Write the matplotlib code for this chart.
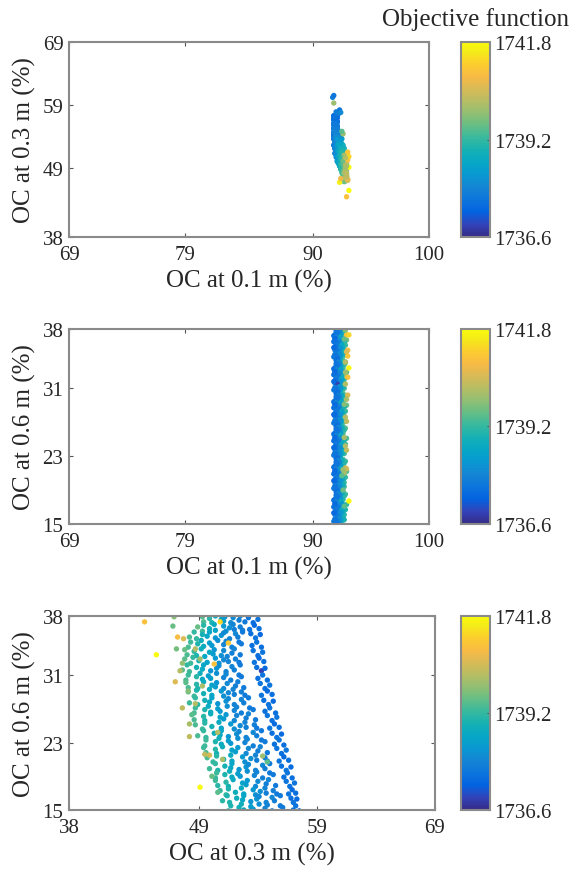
import matplotlib
matplotlib.use('Agg')
import matplotlib.pyplot as plt
from matplotlib.colors import LinearSegmentedColormap

# Each candidate solution: OC at 0.1 m, 0.3 m, 0.6 m (%) and objective value.
# One line per horizontal strip of the 0.3 m / 0.6 m cloud, outliers at the end.
oc_03 = [
    49.3, 49.4, 49.9, 50.1, 50.4, 50.9, 51.1, 51.2, 51.7, 51.9, 52.4, 52.5, 52.9, 53.2, 53.6, 54.0,
    48.9, 49.3, 49.4, 49.9, 50.3, 50.4, 51.1, 51.3, 51.6, 51.9, 52.0, 52.5, 52.7, 53.3, 53.7, 54.1,
    48.2, 48.6, 48.8, 49.3, 49.7, 49.9, 50.4, 50.9, 51.1, 51.6, 52.1, 52.3, 52.7, 53.4, 53.8, 54.2,
    48.1, 48.3, 48.9, 49.2, 49.4, 49.9, 50.1, 50.6, 51.1, 51.3, 51.8, 52.4, 52.6, 53.5, 53.9, 54.3,
    47.8, 48.0, 48.6, 48.8, 49.2, 49.9, 50.2, 50.3, 50.9, 51.1, 51.8, 52.0, 52.5, 53.6, 54.0, 54.4,
    47.8, 48.3, 48.5, 49.0, 49.5, 49.7, 50.4, 50.7, 51.1, 51.4, 51.5, 52.1, 52.4, 53.7, 54.1, 54.5,
    47.6, 48.0, 48.2, 48.8, 49.3, 49.4, 50.0, 50.5, 50.7, 51.3, 51.8, 52.0, 52.5, 53.9, 54.3, 54.6,
    47.9, 48.1, 48.8, 49.1, 49.3, 49.8, 50.0, 50.5, 51.1, 51.3, 51.7, 52.4, 52.6, 54.0, 54.4, 54.8,
    47.9, 48.1, 48.8, 48.9, 49.4, 50.1, 50.4, 50.5, 51.1, 51.4, 52.1, 52.3, 52.8, 54.2, 54.6, 55.0,
    48.1, 48.6, 48.8, 49.4, 49.9, 50.1, 50.9, 51.1, 51.5, 51.9, 52.0, 52.6, 52.9, 54.3, 54.8, 55.2,
    48.2, 48.7, 48.9, 49.5, 49.9, 50.1, 50.6, 51.3, 51.5, 52.0, 52.6, 52.8, 53.2, 54.5, 54.9, 55.3,
    48.6, 48.7, 49.5, 49.8, 50.0, 50.6, 50.8, 51.4, 52.0, 52.2, 52.6, 53.3, 53.6, 54.6, 55.0, 55.5,
    48.4, 48.6, 49.4, 49.5, 50.0, 50.8, 51.1, 51.3, 52.0, 52.2, 53.0, 53.2, 53.8, 54.8, 55.2, 55.6,
    48.7, 49.3, 49.5, 50.1, 50.7, 50.9, 51.7, 52.0, 52.5, 52.9, 53.0, 53.7, 53.9, 55.0, 55.4, 55.8,
    48.9, 49.4, 49.6, 50.3, 50.8, 50.9, 51.5, 52.2, 52.4, 53.0, 53.6, 53.9, 54.3, 55.2, 55.6, 56.0,
    49.5, 49.6, 50.4, 50.7, 50.9, 51.5, 51.7, 52.3, 52.9, 53.1, 53.6, 54.3, 54.6, 55.4, 55.8, 56.2,
    49.4, 49.6, 50.4, 50.5, 51.0, 51.8, 52.1, 52.3, 53.0, 53.2, 54.0, 54.2, 54.8, 55.6, 56.0, 56.4,
    49.7, 50.2, 50.5, 51.1, 51.7, 51.8, 52.7, 52.9, 53.4, 53.8, 53.9, 54.6, 54.8, 55.8, 56.2, 56.6,
    49.9, 50.4, 50.6, 51.2, 51.7, 51.8, 52.4, 53.0, 53.2, 53.8, 54.4, 54.6, 55.0, 56.0, 56.4, 56.8,
    50.4, 50.5, 51.2, 51.6, 51.8, 52.3, 52.5, 53.1, 53.7, 53.9, 54.4, 55.0, 55.3, 56.2, 56.5, 56.9,
    50.4, 50.6, 51.3, 51.5, 51.9, 52.7, 53.0, 53.1, 53.8, 54.0, 54.7, 54.9, 55.5, 56.4, 56.7, 57.1,
    50.8, 51.3, 51.5, 52.1, 52.6, 52.8, 53.6, 53.8, 54.2, 54.6, 54.7, 55.3, 55.6, 56.6, 56.9, 57.2,
    51.0, 51.4, 51.6, 52.2, 52.7, 52.8, 53.4, 53.9, 54.1, 54.7, 55.2, 55.4, 55.9, 56.8, 57.0, 57.3,
    51.5, 51.7, 52.4, 52.6, 52.8, 53.4, 53.6, 54.1, 54.6, 54.8, 55.2, 55.9, 56.1, 57.0, 57.2, 57.5,
    44.4, 45.4, 46.9, 46.8, 47.2, 47.7, 47.1, 47.6, 47.4, 47.0, 48.1, 47.6, 48.7, 48.2, 48.2, 49.5,
    49.9, 51.0, 50.1, 49.1, 50.6, 51.5, 50.3, 50.8, 48.7, 49.1, 49.3, 50.6, 54.4, 54.8, 57.6, 57.9,
    58.2, 57.8, 59.3, 60.2, 60.5, 46.7, 47.3,
]
oc_06 = [
    37.9, 37.3, 37.7, 37.2, 38.0, 37.6, 37.4, 37.9, 37.2, 37.8, 37.5, 38.0, 37.3, 37.8, 37.2, 37.6,
    36.7, 36.2, 36.9, 36.5, 37.0, 36.3, 36.8, 36.2, 36.6, 37.0, 36.4, 36.7, 36.3, 36.4, 36.9, 36.5,
    35.5, 36.1, 35.3, 35.8, 35.6, 36.1, 35.4, 35.7, 36.0, 35.3, 35.9, 35.5, 36.1, 35.9, 35.4, 35.8,
    34.3, 34.9, 34.7, 35.1, 34.4, 34.8, 34.5, 35.1, 34.6, 35.0, 34.3, 34.9, 34.7, 34.5, 34.9, 34.3,
    34.0, 33.4, 33.8, 33.3, 34.1, 33.7, 33.5, 34.0, 33.3, 33.9, 33.6, 34.1, 33.4, 33.9, 33.3, 33.7,
    32.9, 32.4, 33.1, 32.7, 33.2, 32.5, 33.0, 32.4, 32.8, 33.2, 32.6, 32.9, 32.5, 32.5, 33.0, 32.6,
    31.6, 32.2, 31.4, 31.9, 31.7, 32.2, 31.5, 31.8, 32.1, 31.4, 32.0, 31.6, 32.2, 31.9, 31.5, 31.8,
    30.4, 31.0, 30.8, 31.2, 30.5, 30.9, 30.6, 31.2, 30.7, 31.1, 30.4, 31.0, 30.8, 30.6, 31.0, 30.4,
    30.1, 29.5, 29.9, 29.4, 30.2, 29.8, 29.6, 30.1, 29.4, 30.0, 29.7, 30.2, 29.5, 30.0, 29.4, 29.8,
    29.0, 28.5, 29.2, 28.8, 29.3, 28.6, 29.1, 28.5, 28.9, 29.3, 28.7, 29.0, 28.6, 28.6, 29.1, 28.7,
    27.7, 28.3, 27.5, 28.0, 27.8, 28.3, 27.6, 27.9, 28.2, 27.5, 28.1, 27.7, 28.3, 28.0, 27.5, 27.9,
    26.5, 27.1, 26.9, 27.3, 26.6, 27.0, 26.7, 27.3, 26.8, 27.2, 26.5, 27.1, 26.9, 26.7, 27.1, 26.5,
    26.3, 25.7, 26.1, 25.6, 26.4, 26.0, 25.8, 26.3, 25.6, 26.2, 25.9, 26.4, 25.7, 26.2, 25.6, 26.0,
    25.1, 24.6, 25.3, 24.9, 25.4, 24.7, 25.2, 24.6, 25.0, 25.4, 24.8, 25.1, 24.7, 24.7, 25.2, 24.8,
    23.8, 24.4, 23.6, 24.1, 23.9, 24.4, 23.7, 24.0, 24.3, 23.6, 24.2, 23.8, 24.4, 24.1, 23.6, 24.0,
    22.6, 23.3, 23.1, 23.5, 22.8, 23.2, 22.9, 23.5, 23.0, 23.4, 22.6, 23.3, 23.1, 22.8, 23.3, 22.7,
    22.4, 21.8, 22.2, 21.7, 22.5, 22.1, 21.9, 22.4, 21.7, 22.3, 22.0, 22.5, 21.8, 22.3, 21.7, 22.1,
    21.2, 20.7, 21.4, 21.0, 21.5, 20.8, 21.3, 20.7, 21.1, 21.5, 20.9, 21.2, 20.8, 20.8, 21.3, 20.9,
    19.9, 20.5, 19.7, 20.2, 20.0, 20.5, 19.8, 20.1, 20.4, 19.7, 20.3, 19.9, 20.5, 20.2, 19.7, 20.1,
    18.8, 19.4, 19.2, 19.6, 18.9, 19.3, 19.0, 19.6, 19.1, 19.5, 18.8, 19.4, 19.2, 18.9, 19.4, 18.8,
    18.5, 17.9, 18.3, 17.8, 18.6, 18.2, 18.0, 18.5, 17.8, 18.4, 18.1, 18.6, 17.9, 18.4, 17.8, 18.2,
    17.3, 16.8, 17.5, 17.1, 17.6, 16.9, 17.4, 16.8, 17.2, 17.6, 17.0, 17.3, 16.9, 16.9, 17.4, 17.0,
    16.1, 16.7, 15.9, 16.4, 16.2, 16.7, 16.0, 16.3, 16.6, 15.9, 16.5, 16.1, 16.7, 16.4, 15.9, 16.3,
    14.9, 15.5, 15.3, 15.7, 15.0, 15.4, 15.1, 15.7, 15.2, 15.6, 14.9, 15.5, 15.3, 15.0, 15.5, 14.9,
    37.3, 33.4, 37.9, 36.8, 35.5, 35.3, 34.1, 32.4, 31.5, 30.2, 29.1, 27.1, 27.6, 25.2, 23.7, 21.6,
    21.5, 21.0, 19.0, 17.7, 17.1, 34.8, 32.3, 37.3, 34.1, 32.9, 29.7, 24.2, 21.4, 20.7, 14.6, 14.2,
    13.8, 13.5, 13.1, 12.8, 12.5, 40.0, 40.5,
]
objective = [
    1739.5, 1739.4, 1739.1, 1739.0, 1738.8, 1738.5, 1738.4, 1738.3, 1738.0, 1738.0, 1737.8, 1737.9, 1737.7, 1737.6, 1737.5, 1737.6,
    1739.6, 1739.3, 1739.1, 1738.9, 1738.7, 1738.5, 1738.3, 1738.1, 1738.1, 1737.9, 1737.8, 1737.8, 1737.7, 1737.6, 1737.4, 1737.5,
    1739.4, 1739.2, 1739.2, 1738.9, 1738.6, 1738.6, 1738.2, 1738.2, 1738.0, 1737.9, 1738.0, 1737.8, 1737.7, 1737.5, 1737.6, 1737.4,
    1739.4, 1739.3, 1739.0, 1738.8, 1738.7, 1738.4, 1738.3, 1738.1, 1737.9, 1737.9, 1737.8, 1737.7, 1737.7, 1737.5, 1737.6, 1737.5,
    1739.6, 1739.4, 1739.2, 1739.0, 1738.8, 1738.6, 1738.4, 1738.2, 1738.1, 1738.0, 1737.8, 1737.9, 1737.7, 1737.6, 1737.5, 1737.6,
    1739.5, 1739.3, 1739.2, 1738.9, 1738.6, 1738.5, 1738.3, 1738.1, 1738.0, 1737.9, 1737.9, 1737.8, 1737.7, 1737.6, 1737.4, 1737.5,
    1739.5, 1739.2, 1739.3, 1738.9, 1738.7, 1738.6, 1738.2, 1738.2, 1738.1, 1737.9, 1737.9, 1737.8, 1737.7, 1737.5, 1736.9, 1737.4,
    1739.4, 1739.3, 1739.1, 1738.8, 1738.6, 1738.4, 1738.4, 1738.1, 1737.9, 1738.0, 1737.8, 1737.7, 1737.7, 1737.5, 1737.6, 1737.5,
    1739.5, 1739.4, 1739.1, 1739.0, 1738.7, 1738.5, 1738.4, 1738.2, 1738.0, 1738.0, 1737.8, 1737.8, 1737.7, 1737.6, 1737.5, 1737.6,
    1739.6, 1739.3, 1739.0, 1738.9, 1738.7, 1738.6, 1738.3, 1738.1, 1738.0, 1737.9, 1737.8, 1737.8, 1737.7, 1737.6, 1737.4, 1737.5,
    1739.3, 1739.2, 1739.1, 1738.9, 1738.6, 1738.5, 1738.2, 1738.2, 1738.0, 1737.9, 1737.9, 1737.8, 1737.7, 1737.5, 1737.6, 1737.4,
    1739.4, 1739.3, 1739.0, 1738.7, 1738.7, 1738.4, 1738.3, 1738.1, 1737.9, 1737.9, 1737.8, 1737.7, 1737.7, 1737.5, 1737.6, 1737.5,
    1739.5, 1739.4, 1739.1, 1739.0, 1738.8, 1738.5, 1738.3, 1738.3, 1738.0, 1737.9, 1737.8, 1737.9, 1737.7, 1737.6, 1737.5, 1737.6,
    1739.4, 1739.3, 1739.1, 1738.9, 1738.7, 1738.5, 1738.3, 1738.1, 1738.0, 1737.9, 1737.8, 1737.8, 1737.7, 1737.6, 1737.4, 1737.5,
    1739.4, 1739.2, 1739.2, 1738.8, 1738.6, 1738.6, 1738.2, 1738.1, 1738.0, 1737.9, 1738.0, 1737.8, 1737.7, 1737.5, 1737.6, 1737.4,
    1739.3, 1739.3, 1739.0, 1738.8, 1738.7, 1738.4, 1738.3, 1738.1, 1737.9, 1737.9, 1737.8, 1737.7, 1737.7, 1737.5, 1737.6, 1737.5,
    1739.3, 1739.4, 1739.1, 1738.9, 1738.8, 1738.5, 1738.4, 1738.3, 1738.0, 1738.0, 1737.8, 1737.9, 1737.7, 1737.6, 1737.5, 1737.6,
    1739.4, 1739.2, 1739.1, 1738.9, 1738.7, 1738.5, 1738.3, 1738.1, 1738.1, 1737.9, 1737.8, 1737.8, 1737.7, 1737.6, 1737.4, 1737.5,
    1739.3, 1739.2, 1739.0, 1738.9, 1738.6, 1738.6, 1738.2, 1738.2, 1738.0, 1737.9, 1738.0, 1737.8, 1737.7, 1737.5, 1737.6, 1737.4,
    1739.2, 1739.3, 1739.0, 1738.8, 1738.7, 1738.4, 1738.3, 1738.1, 1737.9, 1737.9, 1737.8, 1737.7, 1737.7, 1737.5, 1737.6, 1737.5,
    1739.3, 1739.1, 1739.1, 1738.9, 1738.7, 1738.5, 1738.4, 1738.3, 1738.0, 1738.0, 1737.8, 1737.9, 1737.7, 1737.6, 1737.5, 1737.6,
    1739.2, 1739.2, 1739.0, 1738.8, 1738.7, 1738.5, 1738.3, 1738.1, 1738.1, 1737.9, 1737.8, 1737.8, 1737.7, 1737.6, 1737.4, 1737.5,
    1739.1, 1739.0, 1739.0, 1738.8, 1738.6, 1738.6, 1738.2, 1738.2, 1738.0, 1737.9, 1738.0, 1737.8, 1737.7, 1737.5, 1737.6, 1737.4,
    1739.1, 1739.0, 1738.9, 1738.8, 1738.6, 1738.4, 1738.3, 1738.1, 1737.9, 1737.9, 1737.8, 1737.7, 1737.7, 1737.5, 1737.6, 1737.5,
    1741.0, 1741.8, 1739.8, 1739.6, 1740.9, 1740.6, 1739.7, 1739.9, 1740.2, 1740.6, 1739.8, 1740.3, 1740.2, 1740.1, 1740.3, 1740.3,
    1740.5, 1740.1, 1739.6, 1741.8, 1739.5, 1741.1, 1741.0, 1741.3, 1740.2, 1740.0, 1740.1, 1740.2, 1740.0, 1739.5, 1737.7, 1737.8,
    1737.6, 1738.0, 1740.0, 1737.8, 1737.6, 1741.6, 1740.8,
]
oc_01 = [
    92.8, 92.6, 92.7, 92.4, 92.5, 92.3, 92.4, 92.2, 92.1, 92.3, 92.0, 92.2, 91.9, 92.0, 91.8, 92.1,
    92.9, 92.6, 92.5, 92.7, 92.4, 92.2, 92.5, 92.1, 92.3, 92.0, 92.2, 91.9, 92.1, 92.0, 91.9, 91.8,
    92.7, 92.8, 92.5, 92.6, 92.3, 92.5, 92.2, 92.4, 92.0, 92.2, 92.1, 91.9, 92.0, 91.9, 92.1, 91.8,
    92.6, 92.7, 92.4, 92.6, 92.3, 92.4, 92.1, 92.3, 92.2, 91.9, 92.1, 92.0, 91.8, 92.1, 91.9, 92.0,
    92.8, 92.6, 92.7, 92.4, 92.5, 92.3, 92.4, 92.2, 92.1, 92.3, 92.0, 92.2, 91.9, 92.0, 91.8, 92.1,
    92.9, 92.6, 92.5, 92.7, 92.4, 92.2, 92.5, 92.1, 92.3, 92.0, 92.2, 91.9, 92.1, 92.0, 91.9, 91.8,
    92.7, 92.8, 92.5, 92.6, 92.3, 92.5, 92.2, 92.4, 92.0, 92.2, 92.1, 91.9, 92.0, 91.9, 92.1, 91.8,
    92.6, 92.7, 92.4, 92.6, 92.3, 92.4, 92.1, 92.3, 92.2, 91.9, 92.1, 92.0, 91.8, 92.1, 91.9, 92.0,
    92.8, 92.6, 92.7, 92.4, 92.5, 92.3, 92.4, 92.2, 92.1, 92.3, 92.0, 92.2, 91.9, 92.0, 91.8, 92.1,
    92.9, 92.6, 92.5, 92.7, 92.4, 92.2, 92.5, 92.1, 92.3, 92.0, 92.2, 91.9, 92.1, 92.0, 91.9, 91.8,
    92.7, 92.8, 92.5, 92.6, 92.3, 92.5, 92.2, 92.4, 92.0, 92.2, 92.1, 91.9, 92.0, 91.9, 92.1, 91.8,
    92.6, 92.7, 92.4, 92.6, 92.3, 92.4, 92.1, 92.3, 92.2, 91.9, 92.1, 92.0, 91.8, 92.1, 91.9, 92.0,
    92.8, 92.6, 92.7, 92.4, 92.5, 92.3, 92.4, 92.2, 92.1, 92.3, 92.0, 92.2, 91.9, 92.0, 91.8, 92.1,
    92.9, 92.6, 92.5, 92.7, 92.4, 92.2, 92.5, 92.1, 92.3, 92.0, 92.2, 91.9, 92.1, 92.0, 91.9, 91.8,
    92.7, 92.8, 92.5, 92.6, 92.3, 92.5, 92.2, 92.4, 92.0, 92.2, 92.1, 91.9, 92.0, 91.9, 92.1, 91.8,
    92.6, 92.7, 92.4, 92.6, 92.3, 92.4, 92.1, 92.3, 92.2, 91.9, 92.1, 92.0, 91.8, 92.1, 91.9, 92.0,
    92.8, 92.6, 92.7, 92.4, 92.5, 92.3, 92.4, 92.2, 92.1, 92.3, 92.0, 92.2, 91.9, 92.0, 91.8, 92.1,
    92.9, 92.6, 92.5, 92.7, 92.4, 92.2, 92.5, 92.1, 92.3, 92.0, 92.2, 91.9, 92.1, 92.0, 91.9, 91.8,
    92.7, 92.8, 92.5, 92.6, 92.3, 92.5, 92.2, 92.4, 92.0, 92.2, 92.1, 91.9, 92.0, 91.9, 92.1, 91.8,
    92.6, 92.7, 92.4, 92.6, 92.3, 92.4, 92.1, 92.3, 92.2, 91.9, 92.1, 92.0, 91.8, 92.1, 91.9, 92.0,
    92.8, 92.6, 92.7, 92.4, 92.5, 92.3, 92.4, 92.2, 92.1, 92.3, 92.0, 92.2, 91.9, 92.0, 91.8, 92.1,
    92.9, 92.6, 92.5, 92.7, 92.4, 92.2, 92.5, 92.1, 92.3, 92.0, 92.2, 91.9, 92.1, 92.0, 91.9, 91.8,
    92.7, 92.8, 92.5, 92.6, 92.3, 92.5, 92.2, 92.4, 92.0, 92.2, 92.1, 91.9, 92.0, 91.9, 92.1, 91.8,
    92.6, 92.7, 92.4, 92.6, 92.3, 92.4, 92.1, 92.3, 92.2, 91.9, 92.1, 92.0, 91.8, 92.1, 91.9, 92.0,
    92.9, 93.1, 92.8, 92.7, 93.0, 92.9, 92.8, 92.9, 92.8, 93.0, 92.7, 92.9, 92.8, 92.7, 92.9, 92.8,
    92.9, 92.7, 92.6, 93.1, 92.7, 93.0, 93.0, 93.1, 92.8, 92.8, 92.9, 92.8, 92.6, 92.5, 92.2, 92.0,
    92.3, 92.4, 91.8, 91.7, 91.8, 92.3, 92.4,
]

obj_ticks = [1736.6, 1739.2, 1741.8]

# parula-like colour map (MATLAB default)
parula_pos = [0, 4, 8, 12, 16, 20, 24, 28, 32, 36, 40, 44, 48, 52, 56, 60, 63]
parula_rgb = [
    (0.2081, 0.1663, 0.5292), (0.1959, 0.2645, 0.7279), (0.0117, 0.3875, 0.8820),
    (0.0498, 0.4586, 0.8641), (0.0793, 0.5200, 0.8312), (0.0343, 0.5966, 0.8199),
    (0.0228, 0.6535, 0.7768), (0.0843, 0.6928, 0.7062), (0.2178, 0.7250, 0.6193),
    (0.3953, 0.7459, 0.5244), (0.5709, 0.7485, 0.4494), (0.7184, 0.7411, 0.3905),
    (0.8507, 0.7299, 0.3360), (0.9739, 0.7314, 0.2666), (0.9880, 0.8066, 0.1794),
    (0.9599, 0.9218, 0.0948), (0.9763, 0.9831, 0.0538),
]
parula = LinearSegmentedColormap.from_list(
    'parula', [(p / 63, c) for p, c in zip(parula_pos, parula_rgb)])

plt.rcParams['font.family'] = ['Liberation Serif', 'DejaVu Serif']

text_col = '#262626'
edge_col = '#8a8a8a'

fig = plt.figure(figsize=(5.76, 8.78), dpi=100)

# (x data, y data, axes rect, xlim, ylim, xticks, yticks, xlabel, ylabel)
panels = [
    (oc_01, oc_03, [0.1198, 0.7289, 0.625, 0.2221], (69, 100), (38, 69),
     [69, 79, 90, 100], [38, 49, 59, 69], 'OC at 0.1 m (%)', 'OC at 0.3 m (%)'),
    (oc_01, oc_06, [0.1198, 0.4021, 0.625, 0.2221], (69, 100), (15, 38),
     [69, 79, 90, 100], [15, 23, 31, 38], 'OC at 0.1 m (%)', 'OC at 0.6 m (%)'),
    (oc_03, oc_06, [0.1198, 0.0763, 0.6354, 0.2210], (38, 69), (15, 38),
     [38, 49, 59, 69], [15, 23, 31, 38], 'OC at 0.3 m (%)', 'OC at 0.6 m (%)'),
]

for i, (xs, ys, rect, xlim, ylim, xt, yt, xl, yl) in enumerate(panels):
    ax = fig.add_axes(rect)
    sc = ax.scatter(xs, ys, c=objective, cmap=parula, vmin=obj_ticks[0],
                    vmax=obj_ticks[-1], s=15, linewidths=0)
    ax.set_xlim(*xlim)
    ax.set_ylim(*ylim)
    ax.set_xticks(xt)
    ax.set_yticks(yt)
    ax.tick_params(direction='in', top=True, right=True, length=3, width=0.8,
                   color='#555555', labelcolor=text_col, labelsize=15)
    ax.tick_params(axis='x', pad=6)
    ax.tick_params(axis='y', pad=4)
    for sp in ax.spines.values():
        sp.set_color(edge_col)
        sp.set_linewidth(1.5)
    ax.set_xlabel(xl, fontsize=18, color=text_col, labelpad=3)
    ax.set_ylabel(yl, fontsize=18, color=text_col, labelpad=5)

    cax = fig.add_axes([0.8003, rect[1], 0.0503, rect[3]])
    cb = fig.colorbar(sc, cax=cax, ticks=obj_ticks)
    cb.ax.set_yticklabels(['%.1f' % t for t in obj_ticks])
    cb.ax.tick_params(direction='in', length=2, width=0.8, color='#555555',
                      labelcolor=text_col, labelsize=15, pad=3)
    cb.outline.set_edgecolor(edge_col)
    cb.outline.set_linewidth(1.5)
    if i == 0:
        cax.set_title('Objective function', fontsize=18, color=text_col, pad=12)

fig.savefig('out.png', dpi=100)
